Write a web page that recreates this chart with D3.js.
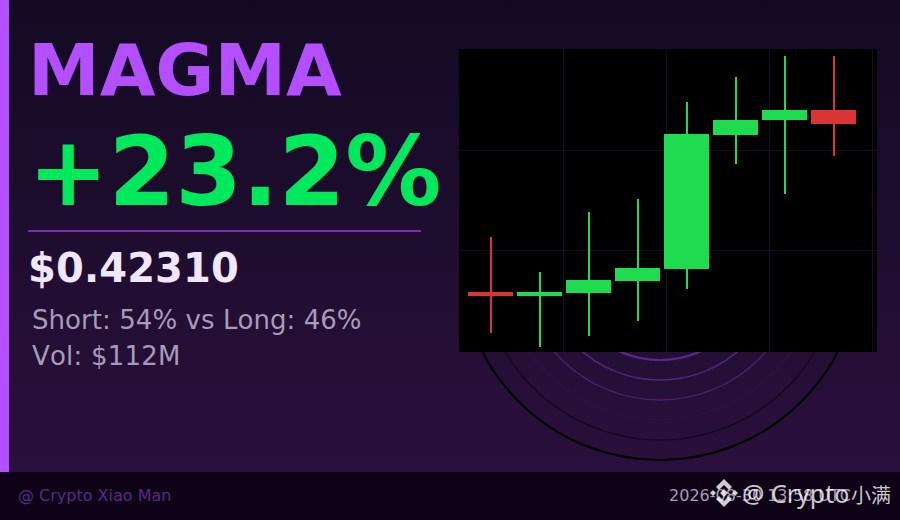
<!DOCTYPE html>
<html>
<head>
<meta charset="utf-8">
<script src="https://cdn.jsdelivr.net/npm/d3@7"></script>
<style>
  html, body { margin: 0; padding: 0; background: #120a20; }
  svg { display: block; }
  text { font-family: "DejaVu Sans", sans-serif; font-kerning: none; }
</style>
</head>
<body>
<div id="chart"></div>
<script>
var width = 900, height = 520;

// candles
var candleIndex = [0, 1, 2, 3, 4, 5, 6, 7];
var opens  = [0.3290, 0.3270, 0.3285, 0.3345, 0.3405, 0.4075, 0.4150, 0.4200];
var closes = [0.3270, 0.3290, 0.3350, 0.3410, 0.4080, 0.4150, 0.4200, 0.4130];
var highs  = [0.3565, 0.3390, 0.3690, 0.3755, 0.4240, 0.4365, 0.4470, 0.4470];
var lows   = [0.3085, 0.3015, 0.3070, 0.3145, 0.3305, 0.3930, 0.3780, 0.3970];
var priceGrid = [0.35, 0.40];
var timeGrid = [1.486, 3.588, 5.696, 7.798];
var ringRadii = [100, 120, 140, 160, 180, 200];
var ringColors = ["#5c2b8a", "#4d2877", "#432265", "#2a123e", "#150a20", "#000000"];
var ringWidths = [2, 1.5, 1.5, 1.5, 1.5, 2];

var svg = d3.select("#chart").append("svg")
  .attr("width", width)
  .attr("height", height);

var defs = svg.append("defs");
var bg = defs.append("linearGradient")
  .attr("id", "bg")
  .attr("x1", 0).attr("y1", 0).attr("x2", 0).attr("y2", 1);
bg.append("stop").attr("offset", "0%").attr("stop-color", "#130a22");
bg.append("stop").attr("offset", "100%").attr("stop-color", "#2a103c");

svg.append("rect").attr("width", width).attr("height", 472).attr("fill", "url(#bg)");

// rings behind the panel
svg.append("g").selectAll("circle")
  .data(ringRadii)
  .join("circle")
    .attr("cx", 660)
    .attr("cy", 260)
    .attr("r", function(d) { return d; })
    .attr("fill", "none")
    .attr("stroke", function(d, i) { return ringColors[i]; })
    .attr("stroke-width", function(d, i) { return ringWidths[i]; });

// left bar and footer
svg.append("rect").attr("x", 0).attr("y", 0).attr("width", 9).attr("height", 472).attr("fill", "#b44fff");
svg.append("rect").attr("x", 0).attr("y", 472).attr("width", width).attr("height", 48).attr("fill", "#0e0216");

// texts
svg.append("text").attr("x", 28).attr("y", 95).attr("font-size", 72).attr("font-weight", "bold")
  .attr("fill", "#b44fff").text("MAGMA");
svg.append("text").attr("x", 28).attr("y", 205).attr("font-size", 96).attr("font-weight", "bold")
  .attr("fill", "#00e85c").text("+23.2%");
svg.append("rect").attr("x", 28).attr("y", 230).attr("width", 393).attr("height", 2).attr("fill", "#7a30ae");
svg.append("text").attr("x", 28).attr("y", 282).attr("font-size", 40).attr("font-weight", "bold")
  .attr("letter-spacing", 0.12)
  .attr("fill", "#f0e6ff").text("$0.42310");
svg.append("text").attr("x", 32).attr("y", 329).attr("font-size", 26)
  .attr("letter-spacing", 0.06)
  .attr("fill", "#a89bb8").text("Short: 54% vs Long: 46%");
svg.append("text").attr("x", 32).attr("y", 365).attr("font-size", 26)
  .attr("letter-spacing", 0.2)
  .attr("fill", "#a89bb8").text("Vol: $112M");
svg.append("text").attr("x", 18).attr("y", 501).attr("font-size", 16)
  .attr("fill", "#5a2a85").text("@ Crypto Xiao Man");
svg.append("text").attr("x", 851).attr("y", 501).attr("font-size", 16).attr("text-anchor", "end")
  .attr("fill", "#a89bb8").text("2026-08-30 13:58 UTC");

// candle panel
var panel = { left: 459, right: 877, top: 49, bottom: 352 };
var x = d3.scaleLinear().domain([0, 7]).range([490.5, 833.5]);
var y = d3.scaleLinear().domain([0.40, 0.35]).range([150, 250]);
var bodyWidth = 45;

svg.append("rect")
  .attr("x", panel.left).attr("y", panel.top)
  .attr("width", panel.right - panel.left).attr("height", panel.bottom - panel.top)
  .attr("fill", "#000000");

var grid = svg.append("g").attr("stroke", "#170a26").attr("stroke-width", 1);
grid.selectAll(".gy").data(priceGrid).join("line").attr("class", "gy")
  .attr("x1", panel.left).attr("x2", panel.right)
  .attr("y1", function(d) { return Math.round(y(d)) + 0.5; })
  .attr("y2", function(d) { return Math.round(y(d)) + 0.5; });
grid.selectAll(".gx").data(timeGrid).join("line").attr("class", "gx")
  .attr("y1", panel.top).attr("y2", panel.bottom)
  .attr("x1", function(d) { return Math.floor(x(d)) + 0.5; })
  .attr("x2", function(d) { return Math.floor(x(d)) + 0.5; });

function candleColor(i) {
  return closes[i] >= opens[i] ? "#1fdb4f" : "#d93535";
}

var candles = svg.append("g").selectAll("g").data(candleIndex).join("g");
candles.append("rect")
  .attr("x", function(i) { return x(i) - 0.5; })
  .attr("width", 2)
  .attr("y", function(i) { return y(highs[i]); })
  .attr("height", function(i) { return y(lows[i]) - y(highs[i]); })
  .attr("fill", candleColor);
candles.append("rect")
  .attr("x", function(i) { return x(i) - bodyWidth / 2; })
  .attr("width", bodyWidth)
  .attr("y", function(i) { return y(Math.max(opens[i], closes[i])); })
  .attr("height", function(i) { return Math.abs(y(opens[i]) - y(closes[i])); })
  .attr("fill", candleColor);

// watermark on top of the footer: logo is a centre diamond, two side dots, two chevrons
var mark = svg.append("g").attr("transform", "translate(724,493)").attr("fill", "#ffffff").attr("fill-opacity", 0.8);
mark.append("path").attr("d",
  "M0,-14L8,-6L5,-3L0,-8L-5,-3L-8,-6Z" +
  "M0,14L8,6L5,3L0,8L-5,3L-8,6Z" +
  "M0,-4L4,0L0,4L-4,0Z" +
  "M-11,-3L-8,0L-11,3L-14,0Z" +
  "M11,-3L14,0L11,3L8,0Z");
var wm = svg.append("text").attr("x", 742).attr("y", 503)
  .attr("fill", "#ffffff").attr("fill-opacity", 0.78);
wm.append("tspan").attr("font-size", 25).style("font-family", "'Noto Sans', sans-serif").text("@ Crypto");
wm.append("tspan").attr("x", 851).attr("font-size", 20).style("font-family", "'Noto Sans CJK SC', sans-serif").text("小满");
</script>
</body>
</html>
